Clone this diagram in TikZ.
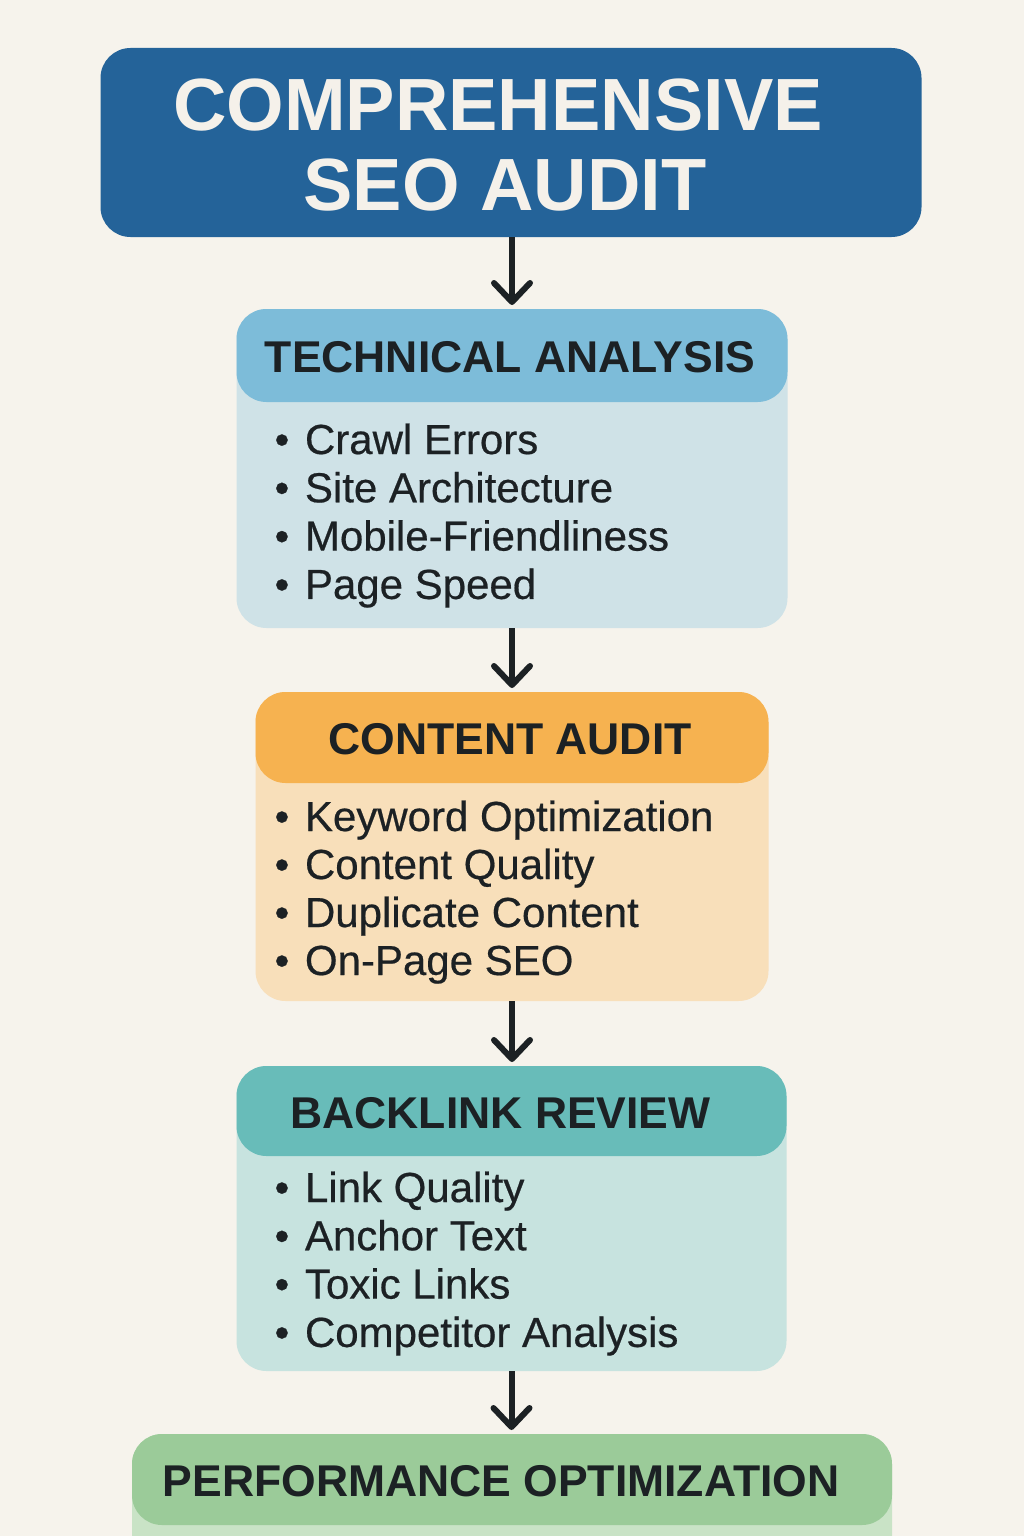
\documentclass[tikz,border=0pt]{standalone}
\usepackage{fontspec}
\setmainfont{Liberation Sans}
\newfontfamily\itemfont{Liberation Sans}[FakeBold=0.5]
\usetikzlibrary{arrows.meta}
\definecolor{bg}{HTML}{F6F3EC}
\definecolor{titleblue}{HTML}{246399}
\definecolor{titletext}{HTML}{F5F1EA}
\definecolor{ink}{HTML}{1C2124}
\definecolor{techheadc}{HTML}{7DBCD9}
\definecolor{techbodyc}{HTML}{CFE2E7}
\definecolor{contheadc}{HTML}{F6B250}
\definecolor{contbodyc}{HTML}{F8DFBA}
\definecolor{backheadc}{HTML}{68BCB9}
\definecolor{backbodyc}{HTML}{C7E3DF}
\definecolor{perfheadc}{HTML}{9BCB99}
\definecolor{perfbodyc}{HTML}{C9E3C6}
\newcommand\bul{\makebox[30.4pt][l]{•}}
\begin{document}
\begin{tikzpicture}[x=1pt,y=-1pt,
  box/.style={rounded corners=30pt, inner sep=0pt, outer sep=0pt},
  htext/.style={inner sep=0pt, font=\fontsize{44.5}{50}\selectfont\bfseries, text=ink},
  item/.style={anchor=base west, inner sep=0pt, outer sep=0pt, font=\fontsize{42}{48}\itemfont\selectfont, text=ink},
  arr/.style={draw=ink, line width=6pt, shorten >=4pt, -{Straight Barb[length=19pt,width=36pt,round]}}
]
\useasboundingbox (0,0) rectangle (1024,1536);
\fill[bg] (0,0) rectangle (1024,1536);

% title
\node[box, fill=titleblue, minimum width=821pt, minimum height=189pt] (title) at (511,142.5) {};
\node[inner sep=0pt, align=center, text=titletext, font=\fontsize{74}{80}\selectfont\bfseries]
  (titletxt) at (505,145) {COMPREHENSIVE\hspace*{14pt}\\SEO AUDIT};

% technical analysis
\node[box, fill=techbodyc, minimum width=551pt, minimum height=319pt, anchor=north] (techb) at (512,309) {};
\node[box, fill=techheadc, minimum width=551pt, minimum height=93pt, anchor=north] (techh) at (techb.north) {};
\node[htext] (techt) at ([xshift=-2pt,yshift=-2pt]techh.center) {TECHNICAL ANALYSIS};
\foreach \t [count=\i] in {Crawl Errors, Site Architecture, Mobile-Friendliness, Page Speed}
  \node[item] (tech\i) at (274.6,{454+48.3*(\i-1)}) {\bul\t};

% content audit
\node[box, fill=contbodyc, minimum width=513pt, minimum height=309pt, anchor=north] (contb) at (512,692) {};
\node[box, fill=contheadc, minimum width=513pt, minimum height=91pt, anchor=north] (conth) at (contb.north) {};
\node[htext] (contt) at ([xshift=-2pt,yshift=-2pt]conth.center) {CONTENT AUDIT};
\foreach \t [count=\i] in {Keyword Optimization, Content Quality, Duplicate Content, On-Page SEO}
  \node[item] (cont\i) at (274.6,{831+48*(\i-1)}) {\bul\t};

% backlink review
\node[box, fill=backbodyc, minimum width=550pt, minimum height=305pt, anchor=north] (backb) at (511.5,1066) {};
\node[box, fill=backheadc, minimum width=550pt, minimum height=90pt, anchor=north] (backh) at (backb.north) {};
\node[htext] (backt) at ([xshift=-11pt,yshift=-2pt]backh.center) {BACKLINK REVIEW};
\foreach \t [count=\i] in {Link Quality, Anchor Text, Toxic Links, Competitor Analysis}
  \node[item] (back\i) at (274.6,{1202+48.3*(\i-1)}) {\bul\t};

% performance optimization
\node[box, fill=perfbodyc, minimum width=760pt, minimum height=220pt, anchor=north] (perfb) at (512,1434) {};
\node[box, fill=perfheadc, minimum width=760pt, minimum height=91pt, anchor=north] (perfh) at (perfb.north) {};
\node[htext] (perft) at ([xshift=-11pt,yshift=-2pt]perfh.center) {PERFORMANCE OPTIMIZATION};

% arrows
\draw[arr] (title.south -| techh.north) -- (techh.north);
\draw[arr] (techb.south) -- (techb.south |- conth.north);
\draw[arr] (contb.south) -- (contb.south |- backh.north);
\draw[arr] (backb.south) -- (backb.south |- perfh.north);
\end{tikzpicture}
\end{document}
